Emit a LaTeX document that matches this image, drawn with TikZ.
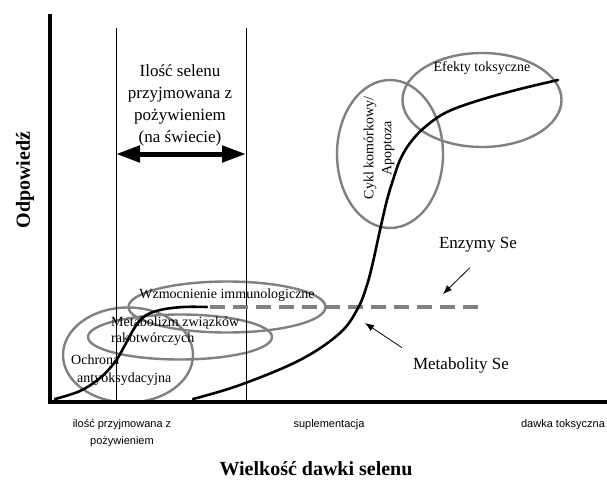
\documentclass[tikz,border=0pt]{standalone}
\usepackage{fontspec}
\setmainfont{Liberation Serif}
\newfontfamily\axisfont{Liberation Sans}
\usepackage{tikz}
\usetikzlibrary{arrows.meta}
\usetikzlibrary{shapes.geometric}
\definecolor{ring}{RGB}{128,128,128}

\begin{document}
\begin{tikzpicture}[x=1pt,y=-1pt,
  oval/.style={ellipse,draw=ring,line width=2.4pt,inner sep=0pt},
  lbl/.style={font=\fontsize{14}{18}\selectfont,inner sep=0pt},
  big/.style={font=\fontsize{17}{22}\selectfont,inner sep=0pt},
  tick/.style={font=\axisfont\fontsize{11}{17}\selectfont,align=center,inner sep=0pt},
  title/.style={font=\bfseries\fontsize{20}{22}\selectfont,inner sep=0pt},
  dose/.style={line width=2.6pt,line cap=round},
  pointer/.style={-{Latex[length=9pt,width=7pt]},line width=0.8pt}]
  \useasboundingbox (0,0) rectangle (607,479);

  \node[oval,minimum width=130pt,minimum height=95pt] (ochrona) at (128,355) {};
  \node[oval,minimum width=184pt,minimum height=45pt] (metabolizm) at (180,337) {};
  \node[oval,minimum width=197pt,minimum height=51pt] (wzmocnienie) at (227,307) {};
  \node[oval,minimum width=106pt,minimum height=148pt] (cykl) at (390,154) {};
  \node[oval,minimum width=159pt,minimum height=94pt] (efekty) at (482,100) {};

  \draw[line width=4pt] (49.5,14) |- (607,401.5);
  \draw[line width=1pt] (116,28) -- (116,401);
  \draw[line width=1pt] (246,28) -- (246,401);
  \coordinate (lo) at (116,154);
  \coordinate (hi) at (246,154);
  \draw[line width=5pt,{Triangle[length=24pt,width=16pt]}-{Triangle[length=24pt,width=16pt]}] (lo) -- (hi);

  \draw[ring,line width=4pt,dash pattern=on 15pt off 8pt] (210,307) -- (483,307);
  \draw[dose] plot[smooth,tension=0.6] coordinates {(55,399) (80,391) (100,378) (115,362) (125,345)
    (135,327) (145,316) (160,310) (183,307) (207,307)};
  \draw[dose] plot[smooth,tension=0.6] coordinates {(193,399) (240,385) (300,360) (340,333) (358,308)
    (367,285) (373,262) (380,230) (387,200) (393,180) (400,160) (410,143) (425,127) (447,112)
    (480,100) (520,89) (558,80)};

  \node[align=center,inner sep=0pt,font=\fontsize{17}{22}\selectfont] (ilosc) at (180,105)
    {Ilość selenu\\przyjmowana z\\pożywieniem\\(na świecie)};
  \node[title,rotate=90] (odpowiedz) at (25,180) {Odpowiedź};
  \node[title] (wielkosc) at (316,469) {Wielkość dawki selenu};
  \node[tick] (dieta) at (122,433) {ilość przyjmowana z\\pożywieniem};
  \node[tick] (suplementacja) at (329,425) {suplementacja};
  \node[tick] (toksyczna) at (563,425) {dawka toksyczna};

  \node[lbl] (efektyText) at (482,68) {Efekty toksyczne};
  \node[lbl,rotate=90,align=center] (cyklText) at (379,148) {Cykl komórkowy/\\Apoptoza};
  \node[lbl] (wzmocnienieText) at (227,295) {Wzmocnienie immunologiczne};
  \node[lbl,align=left,anchor=west,font=\fontsize{14}{16}\selectfont] (metabolizmText) at (111,331)
    {Metabolizm związków\\rakotwórczych};
  \node[lbl,align=left,anchor=west] (ochronaText) at (71,370) {Ochrona\\\hspace{6pt}antyoksydacyjna};

  \node[big] (enzymy) at (478,245) {Enzymy Se};
  \node[big] (metabolity) at (461,365) {Metabolity Se};
  \coordinate (enzymyTip) at (443,294);
  \coordinate (metabolityTip) at (365,323);
  \path[pointer]
    ([shift={(-8,15)}]enzymy.south) edge (enzymyTip)
    ([shift={(-11,-9.5)}]metabolity.north west) edge (metabolityTip);
\end{tikzpicture}
\end{document}
